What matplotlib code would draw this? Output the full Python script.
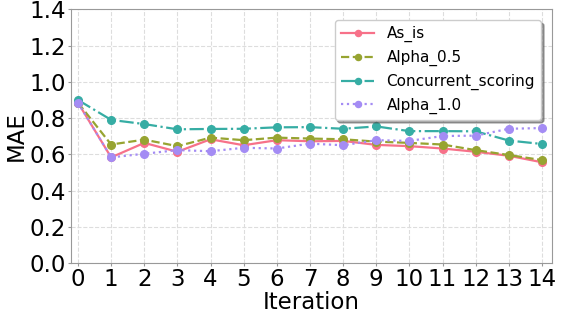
from matplotlib import pyplot as plt
import numpy as np

# MAE per iteration
iterations = list(range(15))
as_is = [0.885, 0.583, 0.663, 0.614, 0.683, 0.650, 0.678, 0.672, 0.674, 0.652, 0.645, 0.632, 0.614, 0.592, 0.556]
alpha_05 = [0.885, 0.654, 0.681, 0.645, 0.692, 0.678, 0.692, 0.687, 0.683, 0.670, 0.663, 0.654, 0.623, 0.596, 0.568]
concurrent = [0.900, 0.790, 0.767, 0.738, 0.740, 0.741, 0.749, 0.750, 0.741, 0.754, 0.728, 0.728, 0.727, 0.676, 0.657]
alpha_10 = [0.885, 0.583, 0.603, 0.623, 0.617, 0.636, 0.632, 0.659, 0.650, 0.678, 0.674, 0.701, 0.703, 0.741, 0.745]

colors = ["#f77189", "#97a431", "#36ada4", "#a48cf4"]

fig = plt.figure(figsize=(5.62, 3.16), dpi=100)
ax = fig.add_axes([0.127, 0.168, 0.855, 0.802])
ax.plot(iterations, as_is, c=colors[0], ls="-", marker="o", ms=5.5, lw=1.6, label="As_is")
ax.plot(iterations, alpha_05, c=colors[1], ls="--", marker="o", ms=5.5, lw=1.6, label="Alpha_0.5")
ax.plot(iterations, concurrent, c=colors[2], ls="-.", marker="o", ms=5.5, lw=1.6, label="Concurrent_scoring")
ax.plot(iterations, alpha_10, c=colors[3], ls=":", marker="o", ms=5.5, lw=1.6, label="Alpha_1.0")

ax.set_xlim(-0.2, 14.3)
ax.set_ylim(0, 1.4)
ax.set_xticks(iterations)
ax.set_yticks(np.arange(0, 1.41, 0.2))
ax.tick_params(labelsize=16.5, length=2, pad=2, color="#999999")
ax.set_xlabel("Iteration", fontsize=16.5, labelpad=0)
ax.set_ylabel("MAE", fontsize=16.5, labelpad=1)
ax.grid(True, ls="--", color="#dddddd", lw=0.8)
for s in ax.spines.values():
    s.set_color("#999999")
ax.legend(loc="upper right", fontsize=11, shadow=True, borderaxespad=0.7,
          labelspacing=0.5, handlelength=2.2, markerscale=0.8)

fig.savefig("out.png", dpi=100)
